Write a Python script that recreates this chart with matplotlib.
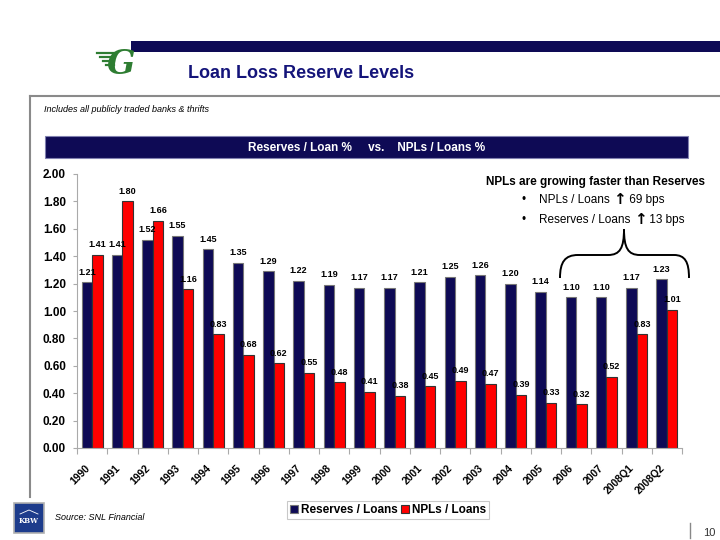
import matplotlib
matplotlib.use("Agg")
from matplotlib import pyplot as plt
from matplotlib.patches import Rectangle, PathPatch
from matplotlib.path import Path
from matplotlib.transforms import Affine2D
import numpy as np

plt.rcParams['font.family'] = ['Liberation Sans', 'DejaVu Sans']

# data
periods = ["1990", "1991", "1992", "1993", "1994", "1995", "1996", "1997", "1998", "1999",
           "2000", "2001", "2002", "2003", "2004", "2005", "2006", "2007", "2008Q1", "2008Q2"]
reserves = [1.21, 1.41, 1.52, 1.55, 1.45, 1.35, 1.29, 1.22, 1.19, 1.17,
            1.17, 1.21, 1.25, 1.26, 1.20, 1.14, 1.10, 1.10, 1.17, 1.23]
npls = [1.41, 1.80, 1.66, 1.16, 0.83, 0.68, 0.62, 0.55, 0.48, 0.41,
        0.38, 0.45, 0.49, 0.47, 0.39, 0.33, 0.32, 0.52, 0.83, 1.01]
yticks = [0.0, 0.2, 0.4, 0.6, 0.8, 1.0, 1.2, 1.4, 1.6, 1.8, 2.0]

NAVY = "#0e0a55"
RED = "#ff0000"
W, H = 720, 540

fig = plt.figure(figsize=(7.2, 5.4), dpi=100)
# pixel coords (origin top-left) -> figure
px = Affine2D().scale(1 / W, -1 / H).translate(0, 1) + fig.transFigure


def ftxt(x, y, s, **kw):
    return fig.text(x / W, 1 - y / H, s, **kw)


# slide decoration
fig.patches.append(Rectangle((131, 41), W - 131, 11, transform=px, color=NAVY, lw=0))
ftxt(188, 73, "Loan Loss Reserve Levels", fontsize=13, fontweight="bold",
     color="#14147a", va="center")
# green logo (rough)
for i, yy in enumerate([53, 57, 61, 65]):
    fig.lines.append(plt.Line2D([97 + i * 3, 114], [yy, yy], transform=px,
                                color="#2e7d32", lw=1.6))
ftxt(121, 65, "G", fontsize=24, fontweight="bold", style="italic",
     family="DejaVu Serif", color="#2e7d32", va="center", ha="center")

# grey frame
fig.lines.append(plt.Line2D([30, W], [96, 96], transform=px, color="#8a8a8a", lw=1.5))
fig.lines.append(plt.Line2D([30, 30], [96, 497], transform=px, color="#8a8a8a", lw=1.5))
ftxt(44, 110, "Includes all publicly traded banks & thrifts", fontsize=6.5,
     style="italic", va="center")

# chart header bar
fig.patches.append(Rectangle((45, 136), 643, 22, transform=px, facecolor=NAVY,
                             edgecolor="#8080b0", lw=0.8))
ftxt(367, 148, "Reserves / Loan %     vs.    NPLs / Loans %", fontsize=8.5,
     fontweight="bold", color="white", ha="center", va="center")

# chart
ax = fig.add_axes([77 / W, 1 - 448 / H, (682 - 77) / W, (448 - 174) / H])
x = np.arange(len(periods))
bw = 0.35
b1 = ax.bar(x - bw / 2, reserves, bw, color=NAVY, edgecolor="#777777", lw=0.8,
            label="Reserves / Loans")
b2 = ax.bar(x + bw / 2, npls, bw, color=RED, edgecolor="#333333", lw=0.8,
            label="NPLs / Loans")
for bars, vals in [(b1, reserves), (b2, npls)]:
    for r, v in zip(bars, vals):
        ax.annotate(f"{v:.2f}", (r.get_x() + r.get_width() / 2, v), xytext=(0, 4),
                    textcoords="offset points", ha="center", va="bottom",
                    fontsize=6.5, fontweight="bold")

ax.set_xlim(-0.5, len(periods) - 0.5)
ax.set_ylim(0, 2.0)
ax.set_yticks(yticks)
ax.set_yticklabels([f"{t:.2f}" for t in yticks], fontsize=8.5, fontweight="bold")
ax.set_xticks(np.arange(len(periods) + 1) - 0.5)
ax.set_xticklabels([])
# label anchors sit a little left of the group centre, as on the slide
ax.set_xticks(x - 0.25, minor=True)
ax.set_xticklabels(periods, minor=True, rotation=45, ha="right",
                   rotation_mode="anchor", fontsize=7.5, fontweight="bold")
ax.tick_params(axis="x", which="minor", length=0, pad=11)
ax.tick_params(axis="x", which="major", length=4, color="#aaaaaa")
ax.tick_params(axis="y", length=3, color="#aaaaaa", pad=5)
for s in ["top", "right"]:
    ax.spines[s].set_visible(False)
for s in ["left", "bottom"]:
    ax.spines[s].set_color("#aaaaaa")

leg = fig.legend(loc="center", bbox_to_anchor=(388 / W, 1 - 510 / H), ncol=2,
                 fancybox=False, edgecolor="#bbbbbb", handlelength=0.7,
                 handleheight=0.7, handletextpad=0.2, columnspacing=0.3,
                 borderpad=0.25, prop={"weight": "bold", "size": 8.5})
leg.get_frame().set_linewidth(0.8)

# callout
ftxt(596, 182, "NPLs are growing faster than Reserves", fontsize=8.5,
     fontweight="bold", ha="center", va="center")
for yy, lead, tail in [(200, "NPLs / Loans ", " 69 bps"),
                       (220, "Reserves / Loans ", " 13 bps")]:
    ftxt(522, yy, "•", fontsize=8.5, va="center")
    t1 = ftxt(539, yy, lead, fontsize=8.5, va="center")
    t2 = ax.annotate("↑", xy=(1, 0.5), xycoords=t1, va="center", ha="left",
                     fontsize=11, fontweight="bold", family=["DejaVu Sans"])
    ax.annotate(tail, xy=(1, 0.5), xycoords=t2, va="center", ha="left",
                fontsize=8.5)

# brace over the last few periods
verts = [(560, 278), (560, 262), (565, 255), (578, 255), (608, 255),
         (620, 255), (624, 248), (624, 229), (624, 248), (628, 255), (640, 255),
         (674, 255), (685, 255), (689, 262), (689, 278)]
codes = [Path.MOVETO, Path.CURVE4, Path.CURVE4, Path.CURVE4, Path.LINETO,
         Path.CURVE4, Path.CURVE4, Path.CURVE4, Path.CURVE4, Path.CURVE4, Path.CURVE4,
         Path.LINETO, Path.CURVE4, Path.CURVE4, Path.CURVE4]
fig.patches.append(PathPatch(Path(verts, codes), transform=px, fill=False,
                             edgecolor="black", lw=1.4))

# footer
fig.patches.append(Rectangle((14, 503), 30, 30, transform=px, facecolor="#1d3c8c",
                             edgecolor="#b0b0b0", lw=1.2))
ftxt(29, 521, "KBW", fontsize=5, fontweight="bold", family="DejaVu Serif",
     color="white", ha="center", va="center")
fig.lines.append(plt.Line2D([20, 29, 38], [514, 510, 514], transform=px,
                            color="white", lw=0.6))
ftxt(55, 518, "Source: SNL Financial", fontsize=6.5, style="italic", va="center")
fig.lines.append(plt.Line2D([690, 690], [523, 538], transform=px, color="#888888", lw=1))
ftxt(703, 533, "10", fontsize=8, color="#333333", va="center")

fig.savefig("out.png", dpi=100)
